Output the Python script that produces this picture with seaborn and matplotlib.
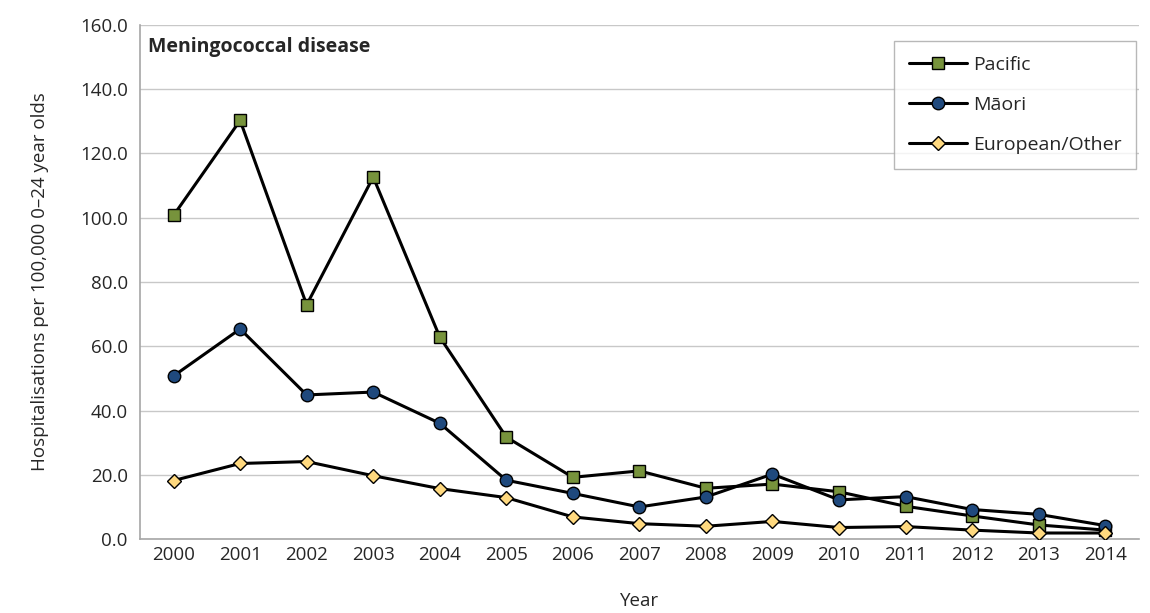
import matplotlib
matplotlib.use('Agg')
from matplotlib import pyplot as plt
import seaborn as sns
import pandas as pd
import numpy as np

years = [str(y) for y in range(2000, 2015)]
pacific = [100.7, 130.2, 72.9, 112.6, 62.9, 31.8, 19.3, 21.3, 15.9, 17.2, 14.8, 10.3, 7.3, 4.5, 2.9]
maori = [50.8, 65.4, 44.9, 45.8, 36.1, 18.4, 14.3, 10.1, 13.2, 20.3, 12.3, 13.3, 9.3, 7.8, 4.3]
european = [18.3, 23.6, 24.2, 19.8, 15.8, 13.0, 7.0, 4.9, 4.1, 5.6, 3.7, 4.0, 2.9, 2.0, 2.0]

series_names = ['Pacific', 'Māori', 'European/Other']
fills = ['#77933C', '#1F497D', '#FFD97F']
markers = ['s', 'o', 'D']
sizes = [8, 9, 7]

sns.set_style('white')
plt.rcParams['font.family'] = ['Open Sans', 'DejaVu Sans']

df = pd.DataFrame({'Year': years * 3,
                   'rate': pacific + maori + european,
                   'group': np.repeat(series_names, len(years))})
df['x'] = list(range(len(years))) * 3

fig, ax = plt.subplots(figsize=(11.5, 6.13), dpi=100)
fig.subplots_adjust(left=0.122, right=0.99, top=0.96, bottom=0.12)

for name, fc, m, s in zip(series_names, fills, markers, sizes):
    sub = df[df['group'] == name]
    sns.lineplot(data=sub, x='x', y='rate', ax=ax, color='black', linewidth=2.2,
                 marker=m, markersize=s, markerfacecolor=fc, markeredgecolor='black',
                 markeredgewidth=1, label=name, zorder=3)

fs = 13.5
ax.set_xlim(-0.5, len(years) - 0.5)
ax.set_ylim(0, 160)
ax.set_yticks(np.arange(0, 161, 20))
ax.set_yticklabels(['%.1f' % v for v in np.arange(0, 161, 20)], fontsize=fs)
ax.set_xticks(range(len(years)))
ax.set_xticklabels(years, fontsize=fs)
ax.set_xticks(np.arange(-0.5, len(years), 1), minor=True)
ax.tick_params(axis='x', which='major', length=0, pad=5)
ax.tick_params(axis='x', which='minor', length=6, color='#A6A6A6', width=1)
ax.tick_params(axis='y', length=5, color='#A6A6A6', width=1, pad=4)

ax.yaxis.grid(True, color='#C8C8C8', linewidth=1)
ax.set_axisbelow(True)
for sp in ['top', 'right']:
    ax.spines[sp].set_visible(False)
for sp in ['left', 'bottom']:
    ax.spines[sp].set_color('#A6A6A6')
    ax.spines[sp].set_linewidth(1.2)

ax.set_xlabel('Year', fontsize=fs, labelpad=20)
ax.set_ylabel('Hospitalisations per 100,000 0\u201324 year olds', fontsize=fs, labelpad=22)

ax.text(0.008, 0.957, 'Meningococcal disease', transform=ax.transAxes,
        fontsize=14, fontweight='bold', va='center', ha='left')

leg = ax.legend(loc='upper right', bbox_to_anchor=(0.9975, 0.968), fontsize=14,
                frameon=True, fancybox=False, edgecolor='#A6A6A6', handlelength=3.0,
                labelspacing=1.15, borderpad=0.75, handletextpad=0.3, borderaxespad=0)
leg.get_frame().set_linewidth(1)

fig.savefig('out.png', dpi=100)
